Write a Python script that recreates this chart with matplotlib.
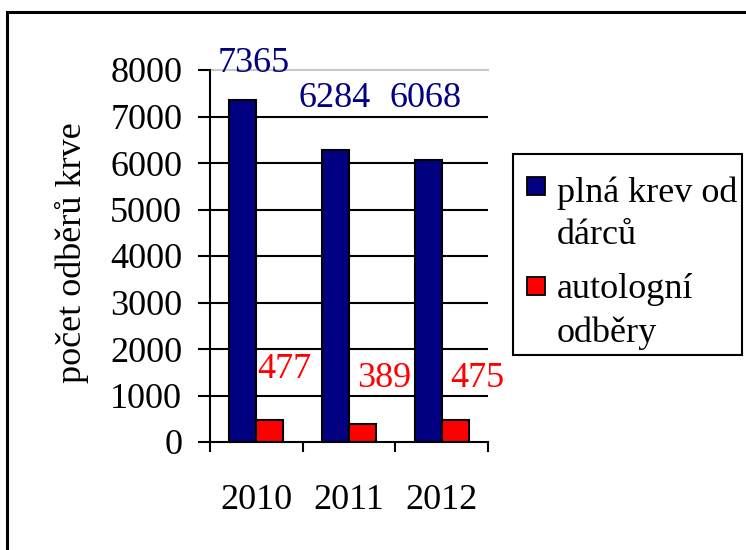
import numpy as np
import matplotlib
matplotlib.use('Agg')
import matplotlib.pyplot as plt
import matplotlib.patches as mpatches

plt.rcParams['font.family'] = ['Liberation Serif', 'DejaVu Serif']

# Data
years = ['2010', '2011', '2012']
plna_krev = [7365, 6284, 6068]
autologni = [477, 389, 475]
legend_labels = [['plná krev od', 'dárců'], ['autologní', 'odběry']]
ylabel = 'počet odběrů krve'

# Couleurs
BLUE = '#000080'
RED = '#FF0000'

# Positions des étiquettes (décalage x par rapport à la catégorie, hauteur en unités de l'axe)
blue_lbl_dx = [-0.03, -0.16, -0.17]
blue_lbl_y = [7957, 7204, 7204]
red_lbl_dx = [0.30, 0.38, 0.38]
red_lbl_y = [1376, 1183, 1183]

W, H = 746, 550
fig = plt.figure(figsize=(W / 100, H / 100), dpi=100)


def px(x, y):
    return x / W, 1 - y / H


ax = fig.add_axes([210 / W, 1 - 442 / H, 278 / W, 372 / H])
x = np.arange(len(years))
bw = 0.29
ax.bar(x - bw, plna_krev, bw, align='edge', color=BLUE, edgecolor='black', linewidth=1.5, zorder=3)
ax.bar(x, autologni, bw, align='edge', color=RED, edgecolor='black', linewidth=1.5, zorder=3)

ax.set_xlim(-0.5, 2.5)
ax.set_ylim(0, 8000)
ax.set_yticks(np.arange(0, 8001, 1000))
ax.tick_params(axis='y', direction='out', length=9, width=1.5, labelsize=26, pad=11)
ax.set_xticks(x)
ax.set_xticklabels(years)
ax.tick_params(axis='x', which='major', length=0, labelsize=26, pad=30)
ax.set_xticks([-0.5, 0.5, 1.5, 2.5], minor=True)
ax.tick_params(axis='x', which='minor', direction='out', length=7, width=1.5)

# Quadrillage horizontal
for v in range(1000, 8000, 1000):
    ax.axhline(v, color='black', linewidth=1.5, zorder=1)
ax.axhline(8000, color='#c8c8c8', linewidth=1.5, zorder=1, clip_on=False)

for s in ['top', 'right']:
    ax.spines[s].set_visible(False)
ax.spines['left'].set_linewidth(1.5)
ax.spines['bottom'].set_linewidth(1.5)
ax.spines['left'].set_zorder(4)
ax.spines['bottom'].set_zorder(4)

# Étiquettes de valeurs
for i in range(len(years)):
    ax.text(x[i] + blue_lbl_dx[i], blue_lbl_y[i], str(plna_krev[i]), color=BLUE,
            fontsize=26, ha='center', va='baseline', zorder=5)
    ax.text(x[i] + red_lbl_dx[i], red_lbl_y[i], str(autologni[i]), color=RED,
            fontsize=26, ha='center', va='baseline', zorder=5)

fig.text(*px(72, 253), ylabel, rotation=90, fontsize=26, ha='center', va='center')

# Légende (dessinée à la main : carré aligné sur la première ligne)
lx0, ly0, lx1, ly1 = 513, 154, 742, 355
fig.patches.append(mpatches.Rectangle(px(lx0, ly1), (lx1 - lx0) / W, (ly1 - ly0) / H,
                                      transform=fig.transFigure, facecolor='white',
                                      edgecolor='black', linewidth=1.5))
entries = [(177, BLUE, legend_labels[0], [202, 244]),
           (277, RED, legend_labels[1], [298, 342])]
for sq_top, color, lines, bases in entries:
    fig.patches.append(mpatches.Rectangle(px(527, sq_top + 18), 18 / W, 18 / H,
                                          transform=fig.transFigure, facecolor=color,
                                          edgecolor='black', linewidth=1.3))
    for line, base in zip(lines, bases):
        fig.text(*px(557, base), line, fontsize=26, ha='left', va='baseline')

# Cadre extérieur
fig.patches.append(mpatches.Rectangle(px(7, 600), 2.0, 600 / H - 12 / H,
                                      transform=fig.transFigure, fill=False,
                                      edgecolor='black', linewidth=2.2))

fig.savefig('out.png', dpi=100)
plt.close('all')
